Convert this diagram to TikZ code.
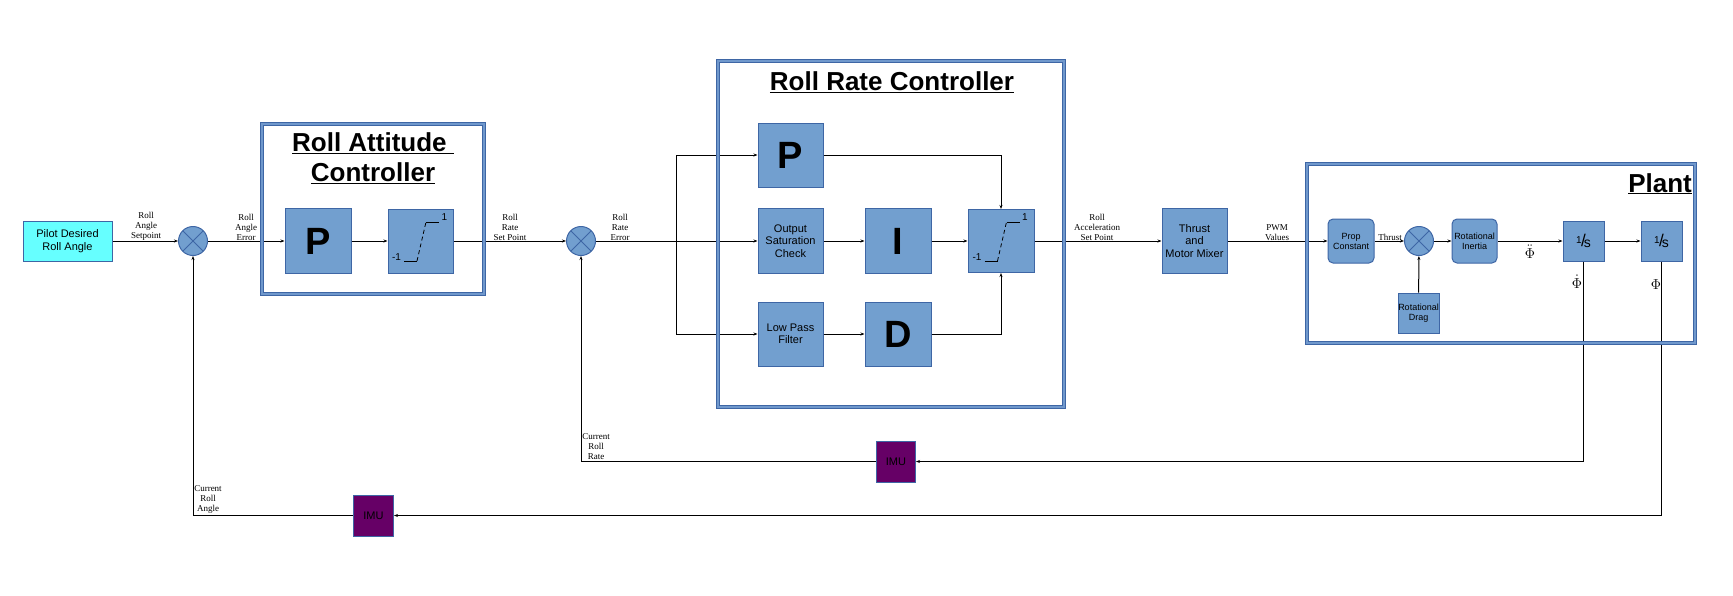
\documentclass[tikz,border=0pt]{standalone}
\usepackage{fontspec}
\setmainfont{Liberation Sans}
\newfontfamily\serifsig{Liberation Serif}
\usetikzlibrary{shapes, arrows.meta}
\definecolor{blockblue}{RGB}{114,159,207}
\definecolor{edgeblue}{RGB}{62,102,165}
\definecolor{frameblue}{RGB}{112,152,204}
\definecolor{pilotcyan}{RGB}{102,255,255}
\definecolor{imupurple}{RGB}{102,0,102}
\tikzstyle{block} = [rectangle, draw=edgeblue, fill=blockblue, line width=1pt, text centered, align=center, inner sep=0pt, font=\fontsize{11}{12.5}\selectfont]
\tikzstyle{bigblock} = [block, minimum width=66pt, minimum height=65pt, font=\fontsize{38}{38}\selectfont\bfseries]
\tikzstyle{midblock} = [block, minimum width=65pt, minimum height=65pt]
\tikzstyle{plantblock} = [block, minimum width=46pt, minimum height=44pt, rounded corners=5pt, font=\fontsize{9}{10}\selectfont]
\tikzstyle{intblock} = [block, minimum width=41pt, minimum height=40pt]
\tikzstyle{imu} = [block, fill=imupurple, minimum width=39pt, minimum height=41pt]
\tikzstyle{sum} = [circle, draw=edgeblue, fill=blockblue, line width=1pt, minimum size=29pt, inner sep=0pt,
  path picture={\draw[edgeblue, line width=1pt] (path picture bounding box.north west) -- (path picture bounding box.south east)
    (path picture bounding box.north east) -- (path picture bounding box.south west);}]
\tikzstyle{frame} = [draw=edgeblue, double=frameblue, line width=1pt, double distance=2.5pt]
\tikzstyle{title} = [font=\fontsize{26}{30}\selectfont\bfseries, align=center, inner sep=0pt]
\tikzstyle{sig} = [font=\serifsig\fontsize{9}{10}\selectfont, align=center, anchor=south, inner sep=0pt]
\tikzstyle{philabel} = [font=\fontsize{15}{15}\selectfont, inner sep=0pt]
\tikzstyle{arrow} = [line width=1pt, ->, >={Stealth[length=4pt,width=3pt]}]
\newcommand{\satglyph}[1]{%
  \draw[line width=0.8pt] ([shift={(-16.5,20)}]#1.center) -- ++(13,0);
  \draw[line width=0.8pt, dash pattern=on 4pt off 3pt] ([shift={(-3.5,20)}]#1.center) -- ([shift={(5.5,-19)}]#1.center);
  \draw[line width=0.8pt] ([shift={(5.5,-19)}]#1.center) -- ++(13,0);
  \node (#1-hi) [font=\fontsize{10}{10}\selectfont] at ([shift={(24,-24)}]#1.center) {1};
  \node (#1-lo) [font=\fontsize{10}{10}\selectfont] at ([shift={(-24,16)}]#1.center) {-1};
}
\newcommand{\oneovers}{\raisebox{3pt}{\fontsize{10}{10}\selectfont 1}\kern-0.5pt{\fontsize{17}{17}\selectfont /}\kern-2pt\raisebox{-1pt}{\fontsize{14}{14}\selectfont s}}

\begin{document}
\begin{tikzpicture}[x=1pt, y=-1pt]
\useasboundingbox (0,0) rectangle (1733,595);
% attitude loop
\node (pilot) [block, fill=pilotcyan, minimum width=89pt, minimum height=40pt] at (67.5,241) {Pilot Desired\\Roll Angle};
\node (sumA) [sum] at (193,241) {};
\node (pA) [bigblock] at (318,241) {P};
\node (satA) [block, minimum width=65pt, minimum height=64pt] at (420.5,241) {};
\satglyph{satA}
\node (attTitle) [title] at (373,158) {\underline{Roll Attitude\ }\\\underline{Controller}};
% rate loop
\node (sumB) [sum] at (581,241) {};
\coordinate (split) at (676,241);
\node (pB) [bigblock, minimum width=65pt, minimum height=64pt] at (790.5,155) {P};
\node (osc) [midblock] at (790.5,241) {Output\\Saturation\\Check};
\node (lpf) [midblock, minimum height=64pt] at (790.5,334) {Low Pass\\Filter};
\node (iB) [bigblock] at (898,241) {I};
\node (dB) [bigblock, minimum height=64pt] at (898,334) {D};
\node (satB) [block, minimum width=66pt, minimum height=63pt] at (1001,241) {};
\satglyph{satB}
\node (rateTitle) [title] at (892,82) {\underline{Roll Rate Controller}};
% mixer and plant
\node (mixer) [midblock] at (1194.5,241) {Thrust\\and\\Motor Mixer};
\node (prop) [plantblock] at (1351,241) {Prop\\Constant};
\node (sumC) [sum] at (1419,241) {};
\node (inertia) [plantblock, minimum width=45pt] at (1474.5,241) {Rotational\\Inertia};
\node (drag) [intblock, font=\fontsize{9}{10}\selectfont] at (1418.5,313) {Rotational\\Drag};
\node (int1) [intblock] at (1583.5,241) {\oneovers};
\node (int2) [intblock] at (1661.5,241) {\oneovers};
\node (plantTitle) [title, anchor=base east] at (1692,192) {\underline{Plant}};
% sensors
\node (imuB) [imu] at (896,461.5) {IMU};
\node (imuA) [imu, minimum width=40pt] at (373.5,515.5) {IMU};

% signal labels
\node (lblSetpoint) [sig] at (146,241) {Roll\\Angle\\Setpoint};
\node (lblAngErr) [sig] at (246,241) {Roll\\Angle\\Error};
\node (lblRateSet) [sig] at (510,241) {Roll\\Rate\\Set Point};
\node (lblRateErr) [sig] at (620,241) {Roll\\Rate\\Error};
\node (lblAccSet) [sig] at (1097,241) {Roll\\Acceleration\\Set Point};
\node (lblPwm) [sig] at (1277,241) {PWM\\Values};
\node (lblThrust) [sig] at (1390,241) {Thrust};
\node (lblCurRate) [sig] at (596,459.5) {Current\\Roll\\Rate};
\node (lblCurAngle) [sig] at (208,513.5) {Current\\Roll\\Angle};
\node (phiddot) [philabel] at (1530,252) {$\ddot{\Phi}$};
\node (phidot) [philabel] at (1577,282) {$\dot{\Phi}$};
\node (phi) [philabel] at (1656,285) {$\Phi$};

% connectors
\draw [arrow] (pilot) -- (sumA);
\draw [arrow] (sumA) -- (pA);
\draw [arrow] (pA) -- (satA);
\draw [arrow] (satA) -- (sumB);
\draw [arrow] (sumB) -- (osc);
\draw [arrow] (split) |- (pB.west);
\draw [arrow] (split) |- (lpf.west);
\draw [arrow] (pB.east) -| (satB.north);
\draw [arrow] (osc) -- (iB);
\draw [arrow] (iB) -- (satB);
\draw [arrow] (lpf) -- (dB);
\draw [arrow] (dB.east) -| (satB.south);
\draw [arrow] (satB) -- (mixer);
\draw [arrow] (mixer) -- (prop);
\draw [arrow] (prop) -- (sumC);
\draw [arrow] (sumC) -- (inertia);
\draw [arrow] (drag) -- (sumC);
\draw [arrow] (inertia) -- (int1);
\draw [arrow] (int1) -- (int2);
\draw [arrow] (int1.south) |- (imuB.east);
\draw [arrow] (imuB.west) -| (sumB.south);
\draw [arrow] (int2.south) |- (imuA.east);
\draw [arrow] (imuA.west) -| (sumA.south);

% frames
\draw [frame] (262,124) rectangle (484,294);
\draw [frame] (718,61) rectangle (1064,407);
\draw [frame] (1307,164) rectangle (1695,343);
\end{tikzpicture}
\end{document}
